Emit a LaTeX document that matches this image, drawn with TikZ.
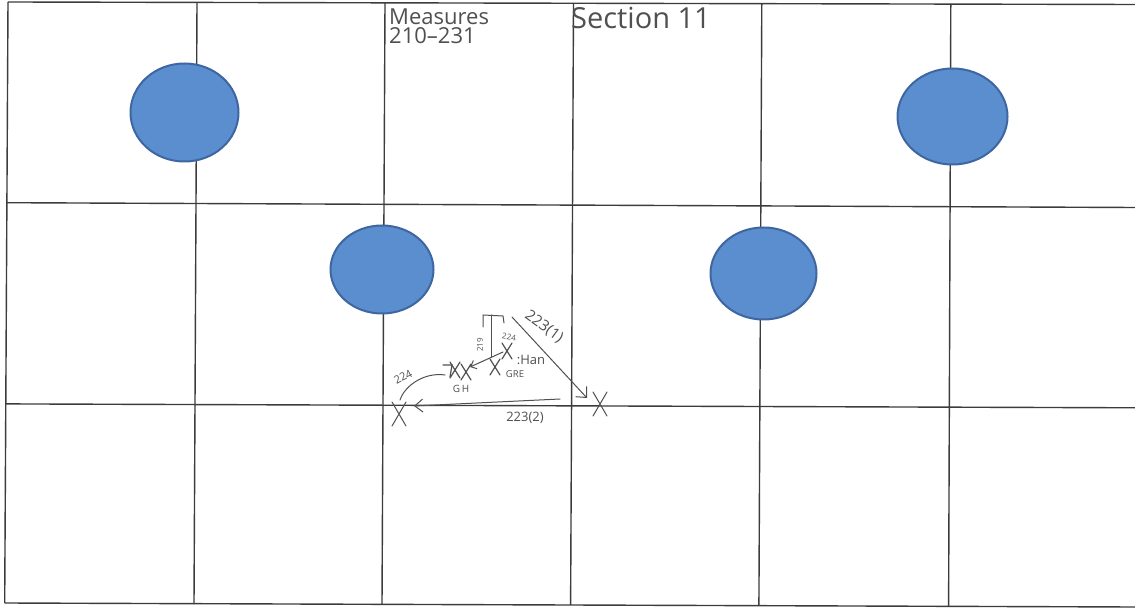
\documentclass[tikz,border=0pt]{standalone}
\usepackage{fontspec}
\setmainfont{Open Sans}
\usetikzlibrary{arrows.meta}
\definecolor{dotfill}{RGB}{91,142,207}
\definecolor{dotedge}{RGB}{62,102,160}
\definecolor{grid}{RGB}{60,60,60}
\definecolor{pencil}{RGB}{80,80,80}
\tikzset{
  gridline/.style={draw=grid, line width=1.4pt},
  dot/.style={fill=dotfill, draw=dotedge, line width=2pt},
  pen/.style={draw=pencil, line width=1pt, line cap=round},
  hand/.style={text=pencil, inner sep=0pt},
  tipx/.style={-{Straight Barb[length=8pt,width=15pt,line width=1pt]}},
  xm/.pic={\draw[pen] (-7,-12)--(7,12) (-7,12)--(7,-12);},
  xs/.pic={\draw[pen, line width=1.2pt] (-5,-8)--(5,8) (-5,8)--(5,-8);}
}
\begin{document}
\begin{tikzpicture}[x=1pt,y=-1pt]
\useasboundingbox (0,0) rectangle (1135,609);
\fill[white] (0,0) rectangle (1135,609);
% grid
\draw[gridline] (8,2) -- (1135,4.5);
\draw[gridline] (7,202.7) -- (1135,207.5);
\draw[gridline] (6,403.9) -- (1135,407.8);
\draw[gridline] (4.7,603) -- (1135,607);
\draw[gridline] (8,2) -- (4.7,603);
\draw[gridline] (197,3) -- (194,604);
\draw[gridline] (385,3) -- (382,604);
\draw[gridline] (573.5,3.5) -- (570.6,605);
\draw[gridline] (761.8,3.5) -- (758.9,605.5);
\draw[gridline] (950.8,4) -- (948.6,606);
% dots
\path[dot] (184.5,112.5) ellipse [x radius=54, y radius=49];
\path[dot] (952.5,116.5) ellipse [x radius=55, y radius=48];
\path[dot] (382,269.5) ellipse [x radius=51.5, y radius=44];
\path[dot] (763.5,273.5) ellipse [x radius=53, y radius=46];
% titles
\node[hand, anchor=north west, font=\fontsize{22}{19}\selectfont, align=left] (meas) at (389,9) {Measures\\210--231};
\node[hand, anchor=north west, font=\fontsize{29}{30}\selectfont] (sect) at (571,7) {Section 11};
% marks
\coordinate (xl) at (399,414);
\coordinate (xr) at (600,404);
\coordinate (han) at (507,351);
\coordinate (gre) at (495,367);
\coordinate (gh1) at (455,370);
\coordinate (gh2) at (466,372);
\pic at (xl) {xm};
\pic at (xr) {xm};
\pic at (han) {xs};
\pic at (gre) {xs};
\pic at (gh1) {xs};
\pic at (gh2) {xs};
% diagonal 223(1)
\coordinate (d1) at (512,317);
\coordinate (d2) at (587,398);
\draw[pen, tipx] (d1) -- (d2);
\node[hand, rotate=-36, font=\fontsize{15}{15}\selectfont] (l2231) at (544,327) {223(1)};
% bottom 223(2)
\coordinate (b1) at (560,399);
\coordinate (b2) at (414,406);
\draw[pen, -{Straight Barb[length=8pt,width=13pt,line width=1pt]}] (b1) -- (b2);
\node[hand, font=\fontsize{13}{13}\selectfont] (l2232) at (525,418) {223(2)};
% bracket 219
\draw[pen] (483,327) -- (483,315) -- (503,316) -- (504,323);
\draw[pen] (491,315) -- (491,357);
\node[hand, rotate=90, font=\fontsize{8}{8}\selectfont] (l219) at (480,345) {219};
\node[hand, rotate=-10, font=\fontsize{8}{8}\selectfont] (l224a) at (509,337) {224};
% Han, GRE, GH labels
\node[hand, font=\fontsize{13}{13}\selectfont] (lhan) at (531,360) {:Han};
\node[hand, font=\fontsize{9.5}{10}\selectfont] (lgre) at (515,374) {GRE};
\node[hand, font=\fontsize{10}{10}\selectfont] (lgh) at (461,389) {G\,H};
% arrow from Han/GRE to GH
\draw[pen, {Straight Barb[length=5pt,width=9pt,line width=1pt]}-] (470,367) -- (503,352);
% "7" stroke near GH
\draw[pen, line width=1.2pt] (443,365) -- (452,365) -- (450,377);
% curved 224
\draw[pen] (445,375) .. controls (425,372) and (405,385) .. (400,400);
\node[hand, rotate=28, font=\fontsize{11}{11}\selectfont] (l224b) at (403,377) {224};
\end{tikzpicture}
\end{document}
